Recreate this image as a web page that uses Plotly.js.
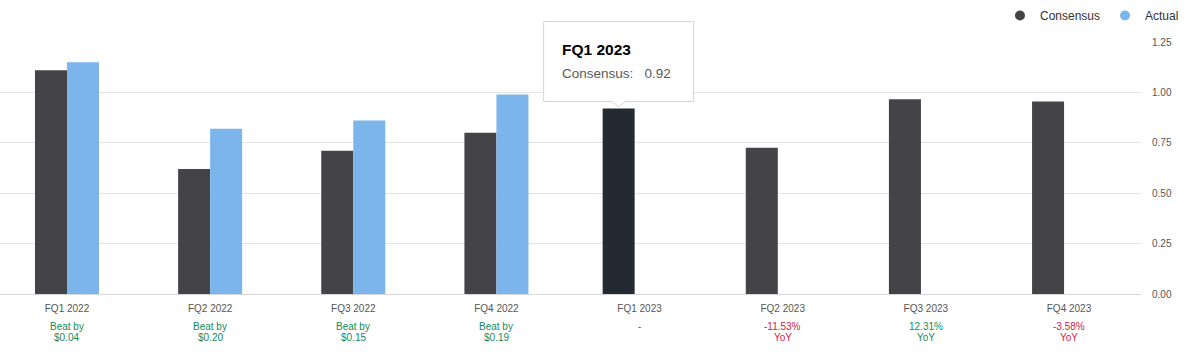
<!DOCTYPE html>
<html><head><meta charset="utf-8">
<script src="https://cdn.plot.ly/plotly-3.0.1.min.js"></script>
<style>html,body{margin:0;padding:0;background:#fff}#chart{width:1198px;height:356px}</style>
</head><body><div id="chart"></div>
<script>
// ---- data ----
const categories = ['FQ1 2022','FQ2 2022','FQ3 2022','FQ4 2022','FQ1 2023','FQ2 2023','FQ3 2023','FQ4 2023'];
const consensus = [1.11, 0.62, 0.71, 0.80, 0.92, 0.725, 0.966, 0.955];
const actual = [1.15, 0.82, 0.86, 0.99, null, null, null, null];
const surpriseLine1 = ['Beat by','Beat by','Beat by','Beat by','-','-11.53%','12.31%','-3.58%'];
const surpriseLine2 = ['$0.04','$0.20','$0.15','$0.19','','YoY','YoY','YoY'];
const surpriseGood = [true, true, true, true, false, false, true, false];
const yTickVals = [0, 0.25, 0.5, 0.75, 1.0, 1.25];
const hoverIndex = 4;

// ---- style ----
const FONT = 'Arial, "Liberation Sans", sans-serif';
const C_CONS = '#434348', C_CONS_HOVER = '#242a31', C_ACT = '#7cb5ec';
const GREEN = '#138a5c', RED = '#d3223f';
const W = 0.2236;
const Y_RANGE = [0, 1.25];
const xIdx = categories.map((c, i) => i);
const consOffset = actual.map(v => v == null ? -0.258 : -W);

const traces = [
  {type:'bar', name:'Consensus', x:xIdx, y:consensus, width:W, offset:consOffset,
   marker:{color:consensus.map((v,i)=> i===hoverIndex ? C_CONS_HOVER : C_CONS)}, showlegend:false, hoverinfo:'skip'},
  {type:'bar', name:'Actual', x:xIdx, y:actual, width:W, offset:0,
   marker:{color:C_ACT}, showlegend:false, hoverinfo:'skip'},
  {type:'scatter', mode:'markers', name:'Consensus', x:[null], y:[null], marker:{color:C_CONS, size:10}},
  {type:'scatter', mode:'markers', name:'Actual', x:[null], y:[null], marker:{color:C_ACT, size:10}}
];

const annotations = [];
categories.forEach((c, i) => {
  const col = surpriseGood[i] ? GREEN : RED;
  annotations.push({xref:'x', yref:'paper', x:i, y:-0.127, text:surpriseLine1[i], showarrow:false,
    xanchor:'center', yanchor:'middle', font:{family:FONT, size:10, color:col}});
  if (surpriseLine2[i]) annotations.push({xref:'x', yref:'paper', x:i, y:-0.171, text:surpriseLine2[i], showarrow:false,
    xanchor:'center', yanchor:'middle', font:{family:FONT, size:10, color:col}});
});

// tooltip for hovered bar
const tipX = hoverIndex + consOffset[hoverIndex] + W/2;
const tipY = consensus[hoverIndex];
const tipYPaper = (tipY - Y_RANGE[0]) / (Y_RANGE[1] - Y_RANGE[0]);
annotations.push({xref:'x', yref:'y', x:tipX, y:tipY, xshift:-59, yshift:59, xanchor:'left', yanchor:'middle',
  showarrow:false, text:'<b>'+categories[hoverIndex]+'</b>', font:{family:FONT, size:15.5, color:'#000'}});
annotations.push({xref:'x', yref:'y', x:tipX, y:tipY, xshift:-59, yshift:35, xanchor:'left', yanchor:'middle',
  showarrow:false, text:'Consensus:   '+consensus[hoverIndex].toFixed(2), font:{family:FONT, size:13.5, color:'#5a5a5a'}});

const shapes = [
  {type:'rect', xref:'x', yref:'paper', xsizemode:'pixel', ysizemode:'pixel', xanchor:tipX, yanchor:tipYPaper,
   x0:-75, x1:75, y0:7, y1:87, line:{color:'#d6d6d6', width:1}, fillcolor:'#ffffff', layer:'above'},
  {type:'path', xref:'x', yref:'paper', xsizemode:'pixel', ysizemode:'pixel', xanchor:tipX, yanchor:tipYPaper,
   path:'M -8 7.6 L 0 2 L 8 7.6', line:{color:'#d6d6d6', width:1}, fillcolor:'#ffffff', layer:'above'}
];

const layout = {
  width:1198, height:356,
  margin:{l:0, r:57, t:42, b:62, pad:0},
  paper_bgcolor:'#fff', plot_bgcolor:'#fff',
  barmode:'overlay', hovermode:false,
  font:{family:FONT, color:'#666'},
  xaxis:{range:[-0.468, 7.503], tickmode:'array', tickvals:xIdx, ticktext:categories,
    showgrid:false, zeroline:false, showline:true, linecolor:'#d8d8d8', linewidth:1,
    ticks:'', ticklabelstandoff:5, tickfont:{family:FONT, size:10, color:'#555'}, fixedrange:true},
  yaxis:{range:Y_RANGE, side:'right', tickmode:'array', tickvals:yTickVals,
    ticktext:yTickVals.map(v=>v.toFixed(2)), showgrid:true, gridcolor:'#e3e3e3', gridwidth:1,
    zeroline:false, showline:false, ticks:'', ticklabelstandoff:10,
    tickfont:{family:FONT, size:10, color:'#555'}, fixedrange:true},
  showlegend:true,
  legend:{orientation:'h', xref:'container', yref:'container', x:0.9883, xanchor:'right', y:0.997, yanchor:'top',
    font:{family:FONT, size:12, color:'#333'}, bgcolor:'rgba(0,0,0,0)', itemwidth:30},
  annotations:annotations, shapes:shapes
};

Plotly.newPlot('chart', traces, layout, {displayModeBar:false, staticPlot:true});
</script></body></html>
